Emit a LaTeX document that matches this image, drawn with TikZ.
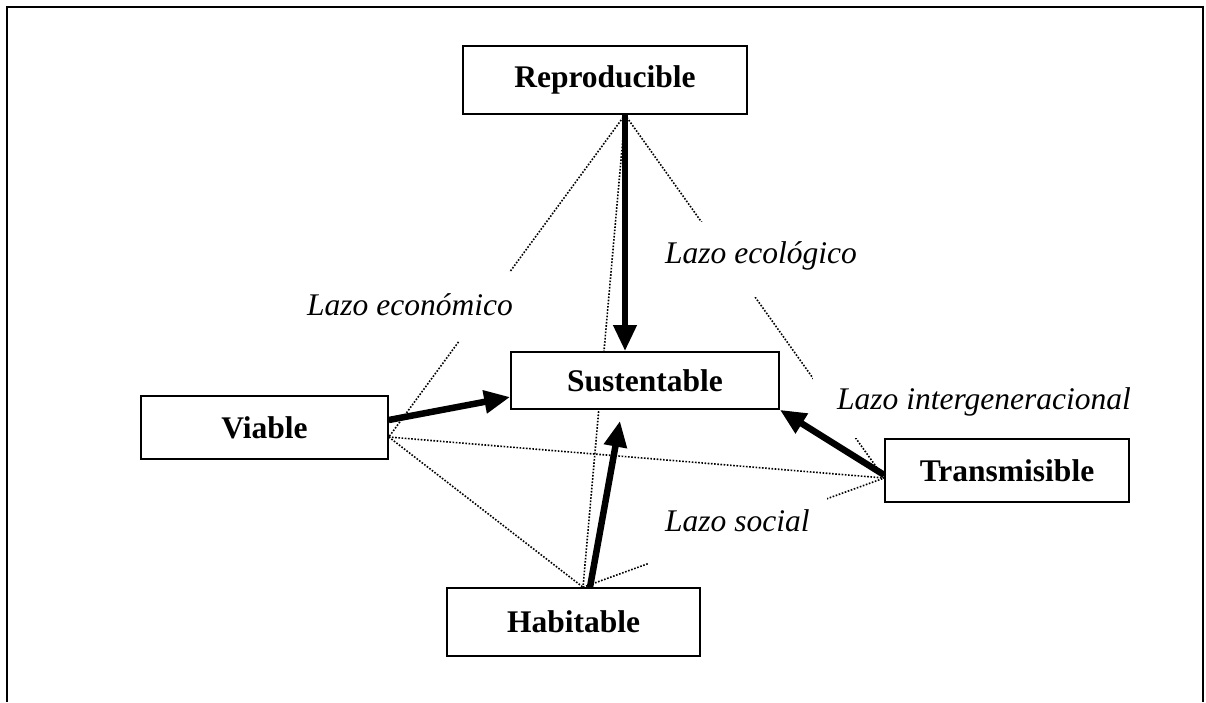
\documentclass[tikz,border=0pt]{standalone}
\usepackage{fontspec}
\setmainfont{Liberation Serif}
\usetikzlibrary{arrows.meta}
\usetikzlibrary{backgrounds}

\begin{document}
\begin{tikzpicture}[x=1pt,y=-1pt,>={Triangle[length=26pt,width=22pt]},
  caja/.style={draw,line width=1.6pt,fill=white,inner sep=0pt,font=\fontsize{31.5}{36}\selectfont\bfseries},
  lazo/.style={line width=1.6pt,dash pattern=on 1.6pt off 1.6pt},
  etiqueta/.style={fill=white,inner ysep=0pt,inner xsep=2pt,anchor=base,font=\fontsize{31.5}{36}\selectfont\itshape},
  flecha/.style={->,line width=6.5pt}]

\useasboundingbox (0,0) rectangle (1206,702);
\draw[line width=2.5pt] (7,702) -- (7,7) -- (1203,7) -- (1203,702);

\node[caja,minimum width=284pt,minimum height=68pt] (rep) at (605,80) {Reproducible};
\node[caja,minimum width=268pt,minimum height=57pt] (sus) at (645,380.5) {Sustentable};
\node[caja,minimum width=247pt,minimum height=63pt] (via) at (264.5,427.5) {Viable};
\node[caja,minimum width=244pt,minimum height=63pt] (tra) at (1007,470.5) {Transmisible};
\node[caja,minimum width=253pt,minimum height=68pt] (hab) at (573.5,622) {Habitable};

\coordinate (rp) at ([xshift=20pt]rep.south);
\coordinate (vp) at ([yshift=-9.5pt]via.east);
\coordinate (hp) at ([xshift=9.5pt]hab.north);
\coordinate (tp) at ([yshift=-7.5pt]tra.west);

\begin{pgfonlayer}{background}
\foreach \a/\b in {rp/vp,rp/hp,rp/tp,vp/tp,vp/hp,hp/tp}
  \draw[lazo] (\a) -- (\b);
\node[etiqueta,text height=43pt,text depth=26pt] (eco) at (410,315) {Lazo económico};
\node[etiqueta,text height=41pt,text depth=34pt] (ecol) at (761,263) {Lazo ecológico};
\node[etiqueta,text height=32pt,text depth=29pt,inner xsep=24pt] (inter) at (984,409) {Lazo intergeneracional};
\node[etiqueta,text height=37pt,text depth=35pt,inner xsep=17pt,anchor=base west] (soc) at (648,531) {Lazo social};
\end{pgfonlayer}

\draw[flecha] (rp) -- ([xshift=-20pt]sus.north);
\draw[flecha] ([yshift=7.5pt]via.east) -- ([yshift=-16.5pt]sus.west);
\draw[flecha] ([xshift=16.5pt]hab.north) -- ([xshift=-25pt,yshift=-11pt]sus.south);
\draw[flecha] ([yshift=-4.5pt]tra.west) -- (sus.south east);
\end{tikzpicture}
\end{document}
